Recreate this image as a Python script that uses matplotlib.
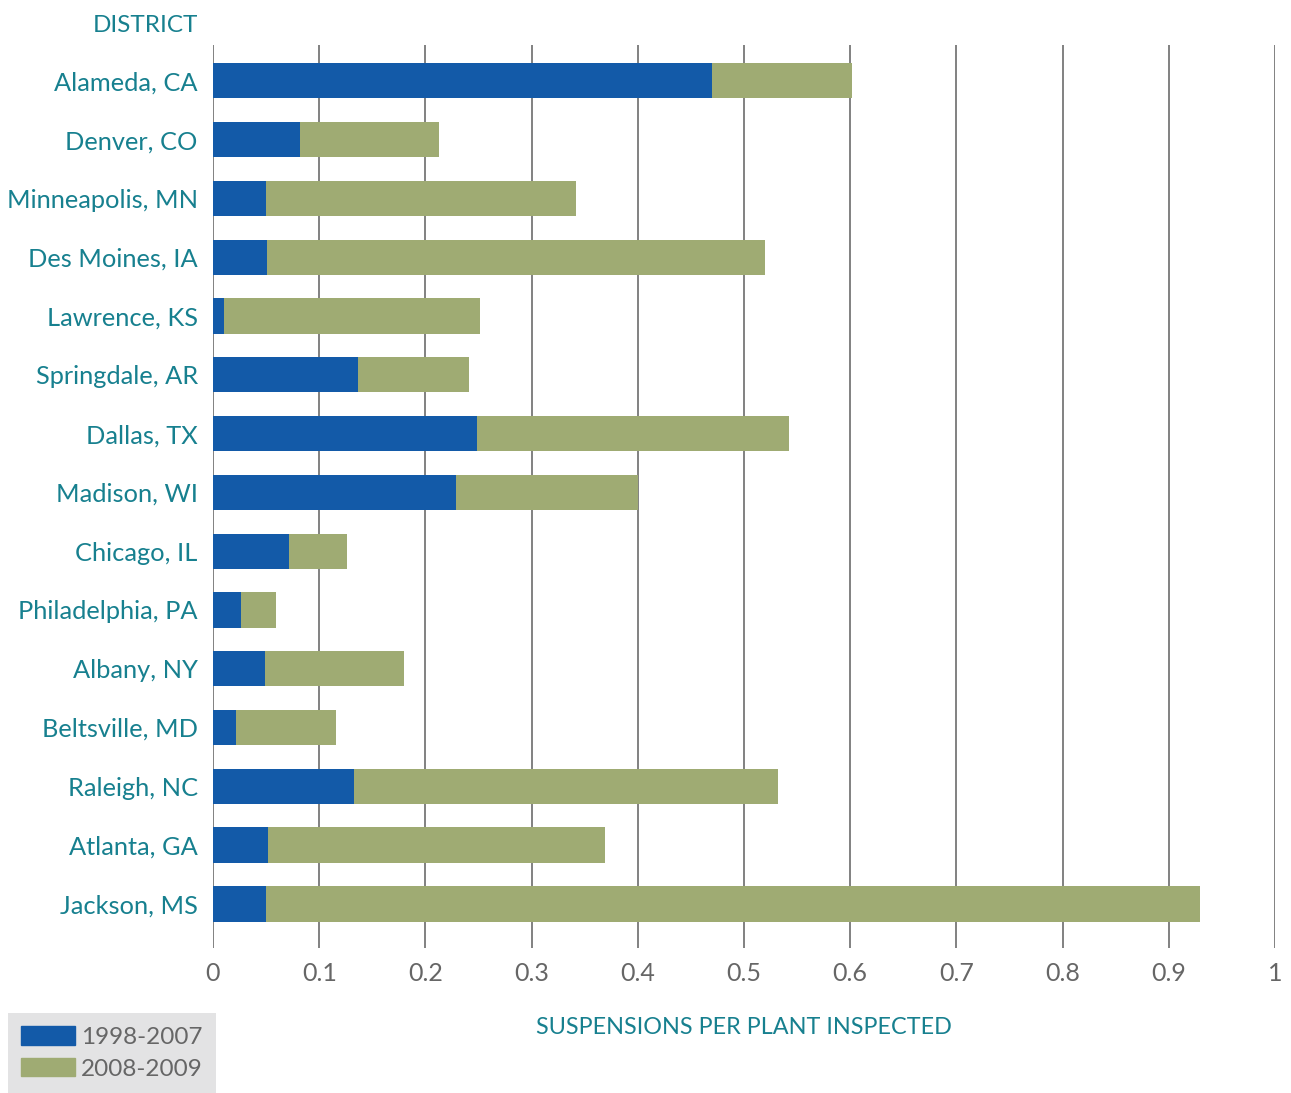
import matplotlib.pyplot as plt
import numpy as np
from matplotlib.patches import Patch

plt.rcParams['font.family'] = ['Lato', 'DejaVu Sans']

districts = ['Alameda, CA', 'Denver, CO', 'Minneapolis, MN', 'Des Moines, IA',
             'Lawrence, KS', 'Springdale, AR', 'Dallas, TX', 'Madison, WI',
             'Chicago, IL', 'Philadelphia, PA', 'Albany, NY', 'Beltsville, MD',
             'Raleigh, NC', 'Atlanta, GA', 'Jackson, MS']
early = [0.470, 0.082, 0.050, 0.051, 0.010, 0.137, 0.249, 0.229,
         0.072, 0.026, 0.049, 0.022, 0.133, 0.052, 0.050]
total = [0.602, 0.213, 0.342, 0.520, 0.251, 0.241, 0.542, 0.400,
         0.126, 0.059, 0.180, 0.116, 0.532, 0.369, 0.929]
late = [t - e for t, e in zip(total, early)]
xticks = [0, 0.1, 0.2, 0.3, 0.4, 0.5, 0.6, 0.7, 0.8, 0.9, 1]

blue = '#135aa8'
green = '#9fab73'
teal = '#17808f'
gray = '#666666'

fig = plt.figure(figsize=(12.91, 10.93), dpi=100)
ax = fig.add_axes([213 / 1291, 1 - 948 / 1093, (1275 - 213) / 1291, (948 - 45) / 1093])

y = np.arange(len(districts))
ax.barh(y, early, height=0.6, color=blue, zorder=3)
ax.barh(y, late, left=early, height=0.6, color=green, zorder=3)

ax.set_xlim(0, 1)
ax.set_ylim(14.75, -0.61)
ax.set_xticks(xticks)
ax.set_xticklabels(['0' if v == 0 else ('1' if v == 1 else f'{v:.1f}') for v in xticks])
ax.set_yticks(y)
ax.set_yticklabels(districts, color=teal, fontsize=18.3)
ax.tick_params(axis='y', length=0, pad=11)
ax.tick_params(axis='x', length=0, pad=10, labelsize=18, labelcolor=gray)
ax.grid(axis='x', color='#777777', linewidth=1.3, zorder=0)
for s in ax.spines.values():
    s.set_visible(False)

fig.text(198 / 1291, 1 - 25 / 1093, 'DISTRICT', color=teal, fontsize=17.5,
         ha='right', va='center')
fig.text(744 / 1291, 1 - 1028 / 1093, 'SUSPENSIONS PER PLANT INSPECTED',
         color=teal, fontsize=16.8, ha='center', va='center')

handles = [Patch(color=blue, label='1998-2007'), Patch(color=green, label='2008-2009')]
leg = fig.legend(handles=handles, loc='lower left', bbox_to_anchor=(8 / 1291, 0),
                 frameon=True, fancybox=False, fontsize=17.5, labelcolor=gray,
                 handlelength=2.2, handleheight=0.8, handletextpad=0.25,
                 labelspacing=0.42, borderpad=0.55, borderaxespad=0)
leg.get_frame().set_facecolor('#dcdcde')
leg.get_frame().set_edgecolor('none')

plt.savefig('out.png')
